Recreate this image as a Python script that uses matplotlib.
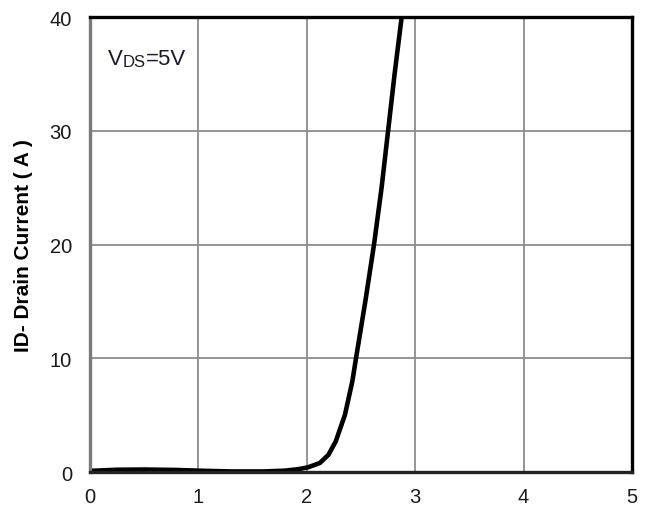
import matplotlib
matplotlib.use("Agg")
import matplotlib.pyplot as plt

plt.rcParams['font.family'] = ['Liberation Sans', 'DejaVu Sans']

vgs = [0, 0.25, 0.5, 0.8, 1.0, 1.3, 1.6, 1.8, 1.92, 2.01, 2.12, 2.20, 2.267,
       2.352, 2.42, 2.454, 2.54, 2.62, 2.69, 2.75, 2.81, 2.875]
id_a = [0.1, 0.2, 0.22, 0.18, 0.12, 0.05, 0.05, 0.12, 0.25, 0.41, 0.79, 1.52,
        2.69, 5.03, 7.96, 10, 15, 20, 25, 30, 35, 40]
xticks = [0, 1, 2, 3, 4, 5]
yticks = [0, 10, 20, 30, 40]

fig = plt.figure(figsize=(6.53, 5.10), dpi=100)
ax = fig.add_axes([0.1378, 0.0725, 0.8300, 0.8916])

ax.plot(vgs, id_a, color='black', lw=3.3, solid_joinstyle='round',
        solid_capstyle='butt', clip_on=True, zorder=3)

ax.set_xlim(0, 5)
ax.set_ylim(0, 40)
ax.set_xticks(xticks)
ax.set_yticks(yticks)
ax.grid(True, color='#8c8c8c', lw=1.3)
ax.set_axisbelow(True)
ax.tick_params(length=0, labelsize=14.5, colors='#1a1a1a')
ax.tick_params(axis='y', pad=13)
ax.tick_params(axis='x', pad=11)

ax.spines['left'].set_color('#7a7a7a')
ax.spines['left'].set_linewidth(2.4)
ax.spines['top'].set_color('black')
ax.spines['top'].set_linewidth(2.4)
ax.spines['right'].set_color('black')
ax.spines['right'].set_linewidth(2.4)
ax.spines['bottom'].set_color('#222222')
ax.spines['bottom'].set_linewidth(2.4)
for s in ax.spines.values():
    s.set_zorder(4)

ax.set_ylabel('ID- Drain Current ( A )', fontsize=15, fontweight='bold',
              color='black', labelpad=12)

t1 = ax.text(0.033, 0.897, 'V', transform=ax.transAxes, fontsize=16,
             color='#1a1a2a', va='baseline', ha='left')
t2 = ax.annotate('DS', xy=(1, 0), xycoords=t1, fontsize=12, color='#1a1a2a',
                 va='bottom', ha='left')
t3 = ax.annotate('=5V', xy=(1, 0), xycoords=t2, fontsize=16, color='#1a1a2a',
                 va='bottom', ha='left')

fig.savefig('out.png', dpi=100)
